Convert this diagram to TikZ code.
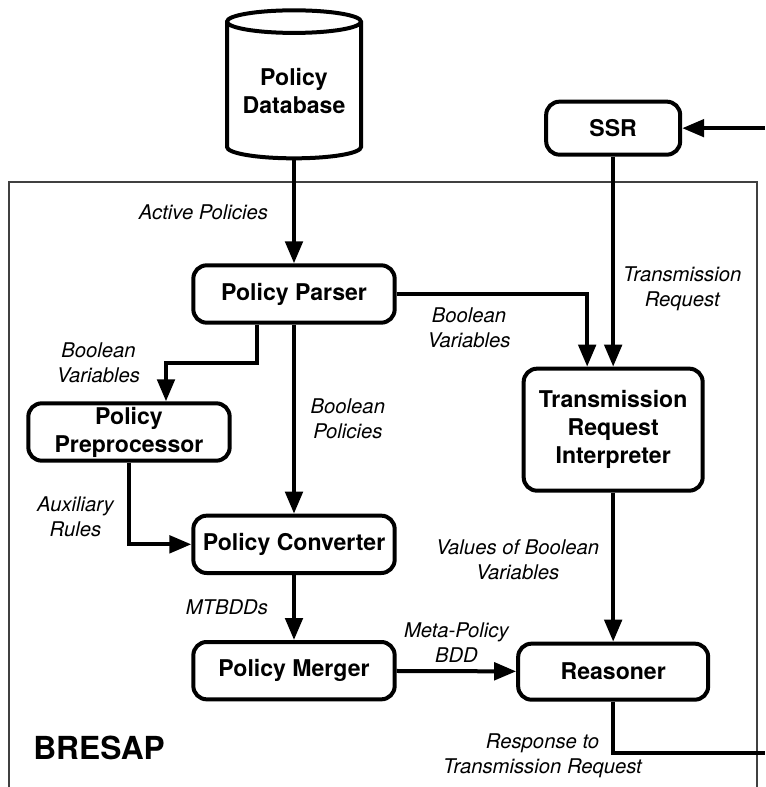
\documentclass[tikz,border=0pt]{standalone}
\usepackage{fontspec}
\setmainfont{TeX Gyre Heros}
\usetikzlibrary{shapes.geometric, arrows.meta, positioning}

\begin{document}
\begin{tikzpicture}[
    x=0.75pt, y=-0.75pt,
    box/.style={draw, line width=3pt, rounded corners=10pt, align=center, font=\fontsize{17.3}{21}\selectfont\bfseries, minimum width=151pt, minimum height=43pt, inner sep=0pt},
    store/.style={draw, cylinder, shape border rotate=90, aspect=0.22, line width=3pt, align=center, font=\fontsize{17.3}{21}\selectfont\bfseries, minimum width=100.5pt, minimum height=111pt, inner sep=0pt},
    arrow/.style={-{Triangle[length=16.5pt, width=13pt]}, line width=3pt},
    link/.style={line width=3pt},
    note/.style={font=\fontsize{15.2}{18.75}\selectfont\itshape, align=center, inner sep=1pt},
    frame/.style={draw=black!75, line width=0.8pt}
]
    \useasboundingbox (0,0) rectangle (765,787);

    % BRESAP frame
    \draw[frame] (9,800) |- (757,182) -- (757,800);
    \node[font=\fontsize{23.8}{28}\selectfont\bfseries, anchor=west, inner sep=0pt] (bresap) at (33,748) {BRESAP};

    % Main blocks
    \node[box] (parser) at (294,294) {Policy Parser};
    \node[store, above=77.25pt of parser] (db) {Policy\\Database};
    \node[box, below=141.75pt of parser] (converter) {Policy Converter};
    \node[box, below=48.75pt of converter] (merger) {Policy Merger};
    \node[box] (preproc) at (129,432) {Policy\\Preprocessor};
    \node[box, minimum width=134.25pt, minimum height=91.5pt, below right=31.5pt and 93.75pt of parser] (tri) {Transmission\\Request\\Interpreter};
    \node[box, minimum width=100.5pt, minimum height=39.75pt, above=157.5pt of tri] (ssr) {SSR};
    \node[box, minimum width=142.5pt, minimum height=42pt, below=111.75pt of tri] (reasoner) {Reasoner};

    % Free ends
    \coordinate (ssrin) at (ssr.east -| 765,0);
    \coordinate (out) at (765,753);

    % Flows
    \draw[arrow] (db) -- (parser) node[note, midway, left=17pt] {Active Policies};
    \draw[arrow] (ssrin) -- (ssr);
    \draw[arrow] (ssr) -- (tri) node[note, pos=0.63, right=5pt] {Transmission\\Request};
    \draw[arrow] (parser.east) -| ([xshift=-19.5pt]tri.north) node[note, pos=0.19, below=8pt] {Boolean\\Variables};
    \draw[arrow] ([xshift=-27.75pt]parser.south) -- ++(0,38) -| ([xshift=27.75pt]preproc.north) node[note, pos=0.5, left=17pt] {Boolean\\Variables};
    \draw[arrow] (parser) -- (converter) node[note, midway, right=10pt] {Boolean\\Policies};
    \draw[arrow] (preproc) |- (converter) node[note, pos=0.33, left=9pt] {Auxiliary\\Rules};
    \draw[arrow] (converter) -- (merger) node[note, midway, left=17pt] {MTBDDs};
    \draw[arrow] (merger) -- (reasoner) node[note, midway, above=4pt] {Meta-Policy\\BDD};
    \draw[arrow] (tri) -- (reasoner) node[note, pos=0.45, left=8pt] {Values of Boolean\\Variables};
    \draw[link] (reasoner) |- (out) node[note, pos=0.5, xshift=-53pt, yshift=-2.25pt] {Response to\\Transmission Request};
\end{tikzpicture}
\end{document}
